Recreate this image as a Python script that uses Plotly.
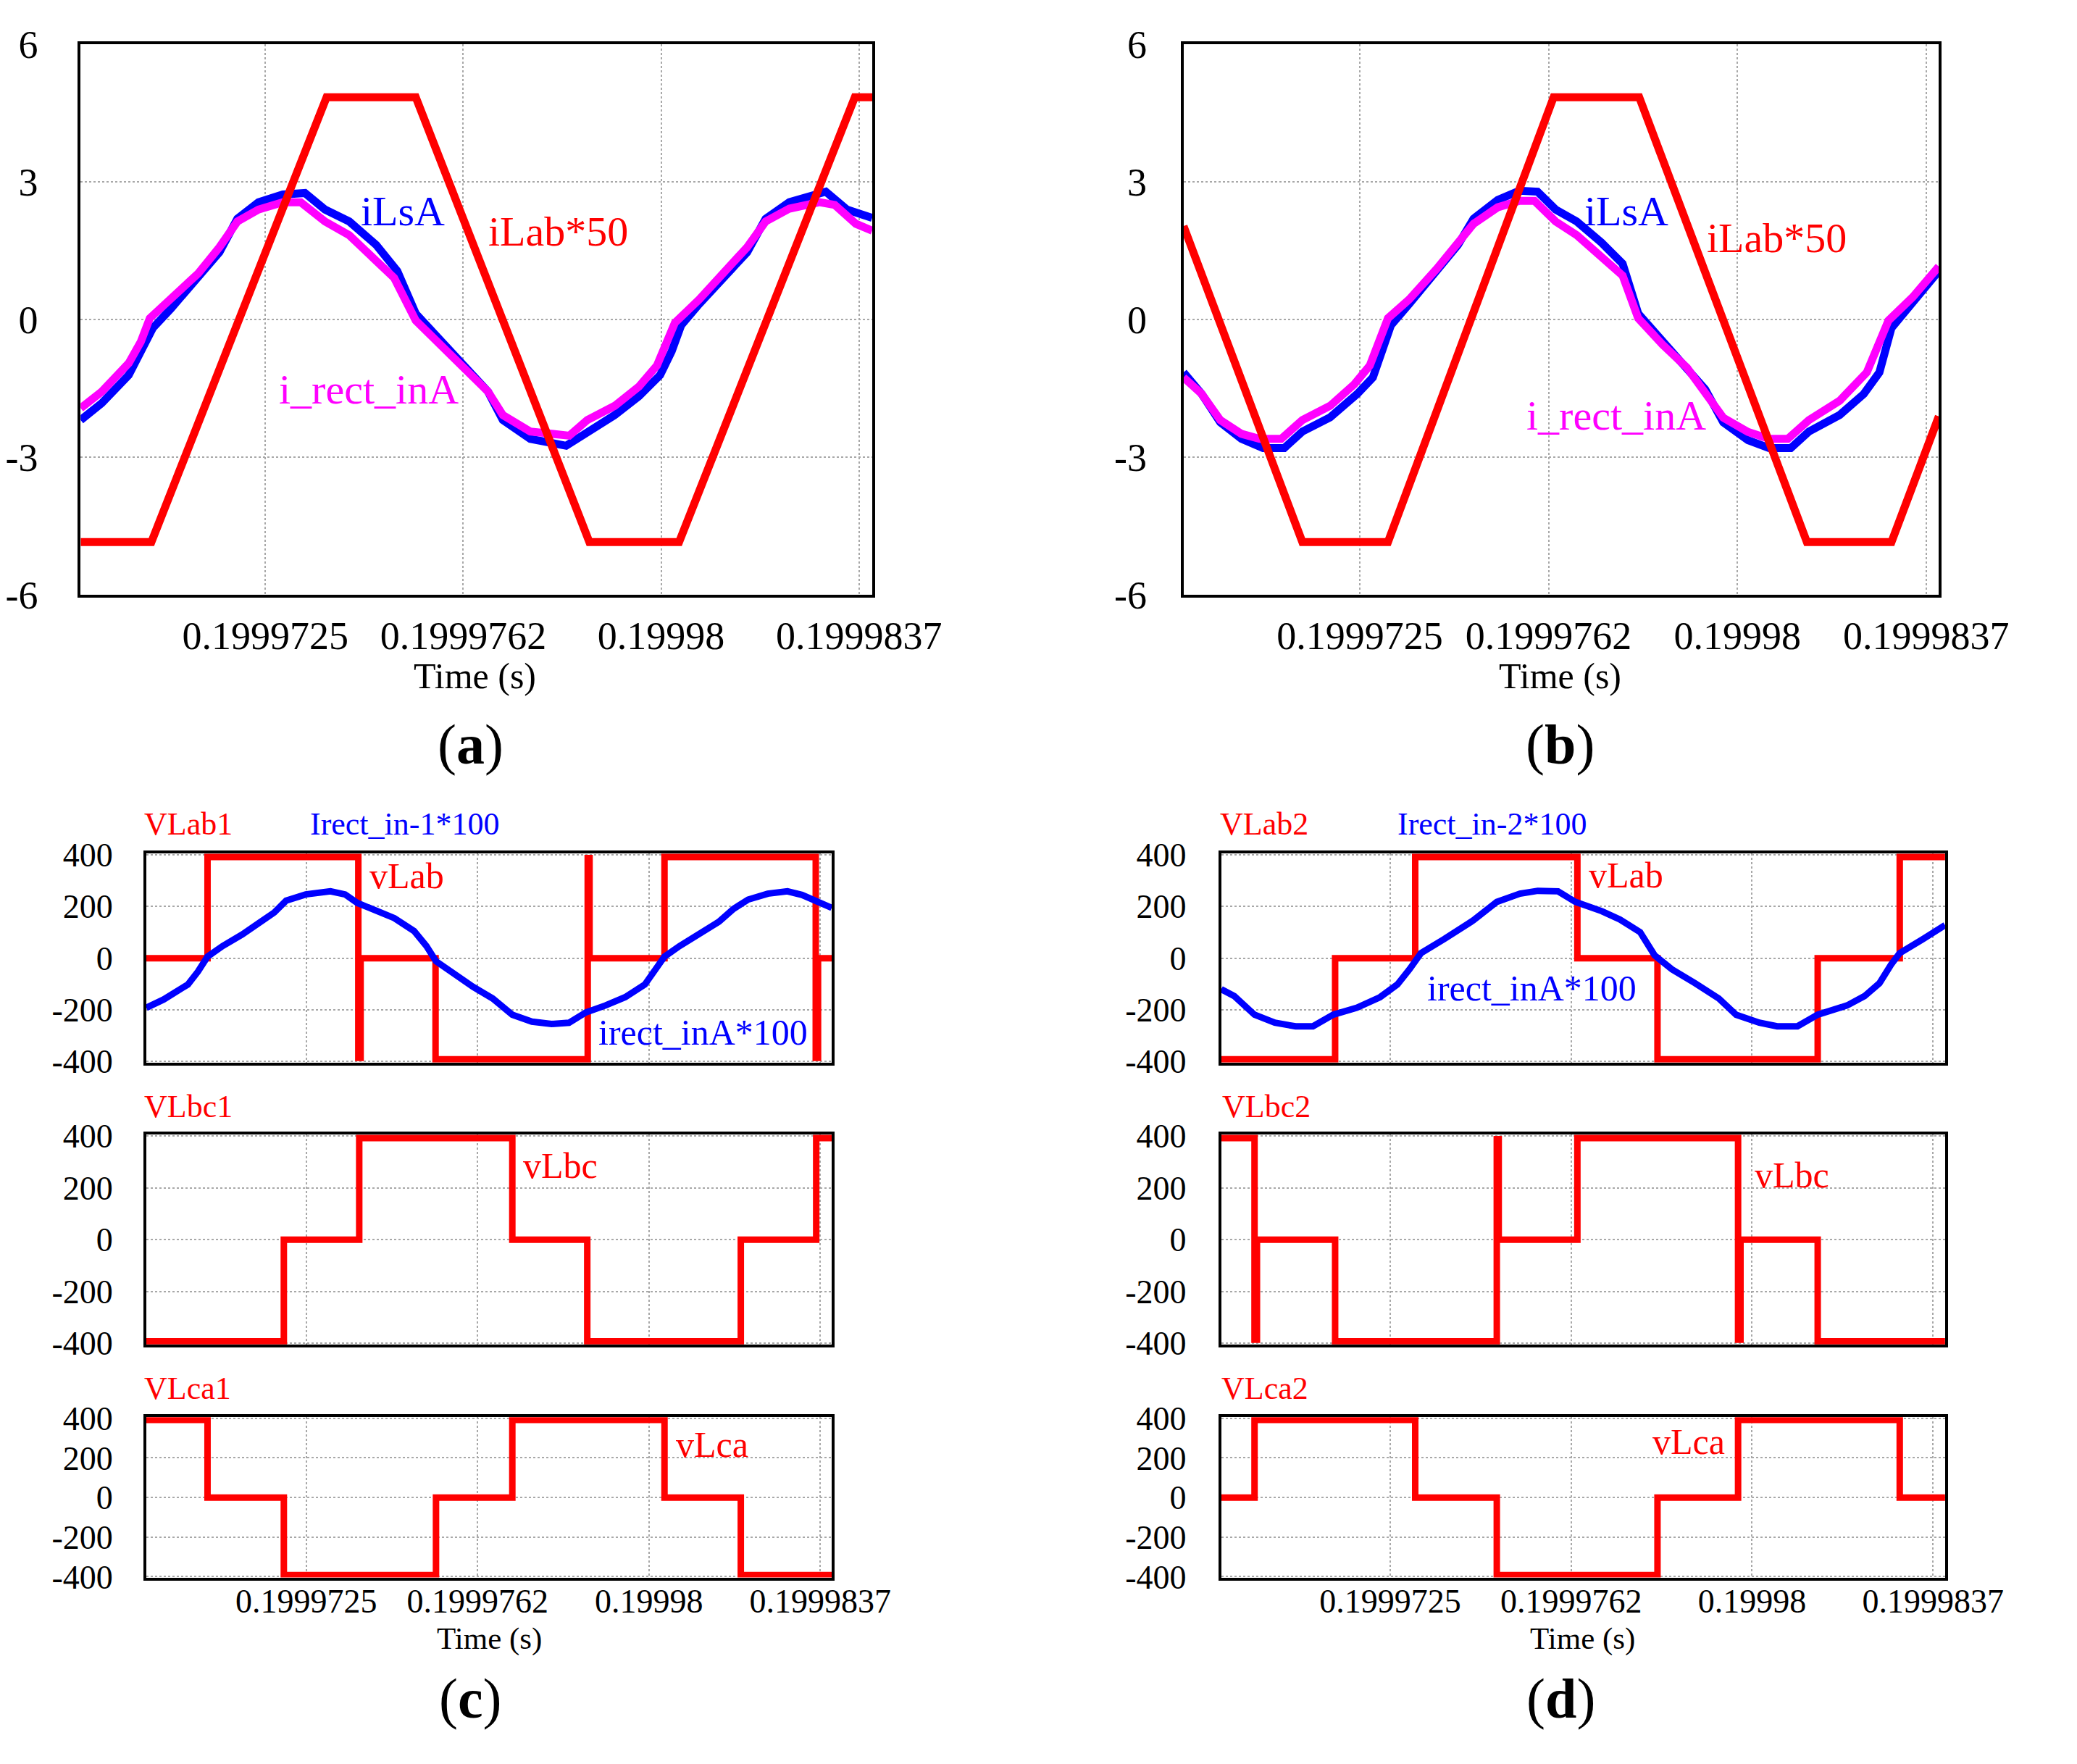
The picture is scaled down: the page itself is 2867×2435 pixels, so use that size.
import plotly.graph_objects as go

# ---------------- data (time in microseconds after T0) ----------------
T0 = 0.199969  # s
x_tick_us = [3.5, 7.25, 11.0, 14.75]
x_tick_text = ["0.1999725", "0.1999762", "0.19998", "0.1999837"]
y_tick_ab = [-6, -3, 0, 3, 6]
y_tick_ab_text = ["-6", "-3", "0", "3", "6"]
y_tick_cd = [-400, -200, 0, 200, 400]
y_tick_cd_text = ["-400", "-200", "0", "200", "400"]

# Panel (a)
a_ilab_t = [0, 1.34, 4.66, 6.35, 9.64, 11.34, 14.67, 15.0]
a_ilab_v = [-4.85, -4.85, 4.85, 4.85, -4.85, -4.85, 4.85, 4.85]
a_ilsa_t = [0, 0.40, 0.91, 1.14, 1.37, 1.71, 2.23, 2.63, 2.97, 3.37, 3.83, 4.25, 4.63, 5.09,
            5.60, 6.00, 6.35, 6.80, 7.26, 7.72, 8.00, 8.52, 9.20, 9.60, 10.12, 10.58, 10.98,
            11.20, 11.38, 11.72, 12.23, 12.63, 12.98, 13.43, 14.12, 14.52, 15.0]
a_ilsa_v = [-2.19, -1.82, -1.21, -0.69, -0.18, 0.24, 0.91, 1.47, 2.20, 2.56, 2.73, 2.76, 2.40, 2.14,
            1.63, 1.06, 0.13, -0.43, -1.00, -1.57, -2.19, -2.60, -2.75, -2.44, -2.08, -1.67, -1.21,
            -0.69, -0.12, 0.34, 0.96, 1.47, 2.20, 2.56, 2.79, 2.40, 2.22]
a_irect_t = [0, 0.40, 0.91, 1.14, 1.31, 1.71, 2.23, 2.63, 2.97, 3.37, 3.83, 4.17, 4.63, 5.09,
             5.54, 5.94, 6.35, 6.80, 7.26, 7.72, 8.00, 8.52, 9.26, 9.60, 10.12, 10.58, 10.92,
             11.26, 11.72, 12.23, 12.63, 12.98, 13.43, 14.00, 14.29, 14.69, 15.0]
a_irect_v = [-1.93, -1.57, -0.95, -0.48, 0.03, 0.44, 1.01, 1.58, 2.14, 2.40, 2.56, 2.56, 2.14, 1.84,
             1.37, 0.91, -0.02, -0.54, -1.05, -1.57, -2.08, -2.44, -2.53, -2.19, -1.88, -1.46, -1.00,
             -0.07, 0.44, 1.06, 1.58, 2.14, 2.42, 2.56, 2.50, 2.09, 1.94]

# Panel (b)
b_ilab_t = [0, 2.36, 4.06, 7.35, 9.05, 12.38, 14.06, 15.0]
b_ilab_v = [2.04, -4.85, -4.85, 4.85, 4.85, -4.85, -4.85, -2.11]
b_ilsa_t = [0, 0.36, 0.73, 1.15, 1.58, 2.00, 2.36, 2.91, 3.45, 3.76, 3.94, 4.12, 4.48, 5.03,
            5.45, 5.76, 6.24, 6.67, 7.03, 7.39, 7.81, 8.30, 8.72, 9.03, 9.51, 10.00, 10.36,
            10.72, 11.21, 11.63, 12.06, 12.42, 13.03, 13.51, 13.82, 14.06, 14.48, 15.0]
b_ilsa_v = [-1.15, -1.62, -2.24, -2.60, -2.80, -2.80, -2.44, -2.13, -1.62, -1.26, -0.69, -0.12, 0.34, 1.06,
            1.63, 2.20, 2.61, 2.81, 2.79, 2.40, 2.14, 1.68, 1.22, 0.13, -0.48, -1.05, -1.52,
            -2.24, -2.63, -2.80, -2.80, -2.44, -2.08, -1.62, -1.15, -0.18, 0.39, 1.06]
b_irect_t = [0, 0.36, 0.73, 1.15, 1.51, 1.94, 2.36, 2.91, 3.39, 3.70, 4.06, 4.48, 5.03,
             5.45, 5.76, 6.24, 6.67, 6.97, 7.39, 7.81, 8.30, 8.72, 9.03, 9.51, 10.00, 10.36,
             10.72, 11.21, 11.63, 12.00, 12.42, 13.03, 13.57, 14.00, 14.48, 15.0]
b_irect_v = [-1.26, -1.62, -2.19, -2.49, -2.60, -2.60, -2.19, -1.88, -1.41, -1.00, 0.03, 0.44, 1.11,
             1.68, 2.09, 2.45, 2.59, 2.59, 2.14, 1.84, 1.37, 0.96, 0.03, -0.54, -1.05, -1.57,
             -2.14, -2.45, -2.60, -2.60, -2.19, -1.77, -1.15, -0.02, 0.49, 1.16]

# Panel (c)
c_vlab_t = [0, 1.34, 4.64, 4.69, 6.33, 9.66, 9.70, 11.34, 14.65, 14.70, 15.0]
c_vlab_v = [0, 392, -386, 0, -392, 388, 0, 392, -386, 0, 0]
c_irect_t = [0, 0.38, 0.91, 1.13, 1.34, 1.67, 2.10, 2.53, 2.80, 3.06, 3.49, 4.03, 4.35, 4.62,
             5.05, 5.43, 5.86, 6.13, 6.34, 6.72, 7.15, 7.58, 8.01, 8.44, 8.87, 9.25, 9.62,
             10.05, 10.48, 10.91, 11.13, 11.34, 11.67, 12.10, 12.53, 12.85, 13.17, 13.60,
             14.03, 14.35, 14.68, 15.0]
c_irect_v = [-192, -160, -102, -52, 6, 47, 92, 141, 177, 223, 247, 259, 247, 214,
             182, 155, 105, 47, -12, -61, -111, -156, -219, -246, -255, -250, -210,
             -183, -151, -102, -43, 6, 47, 96, 141, 191, 227, 250,
             259, 245, 218, 195]
c_vlbc_t = [0, 3.01, 4.66, 8.01, 9.65, 13.01, 14.66, 15.0]
c_vlbc_v = [-392, 0, 392, 0, -392, 0, 392, 392]
c_vlca_t = [0, 1.34, 3.01, 6.34, 8.01, 11.34, 13.01, 15.0]
c_vlca_v = [392, 0, -392, 0, 392, 0, -392, -392]

# Panel (d)
d_vlab_t = [0, 2.36, 4.02, 7.38, 9.04, 12.36, 14.06, 15.0]
d_vlab_v = [-392, 0, 392, 0, -392, 0, 392, 392]
d_irect_t = [0, 0.27, 0.69, 1.11, 1.54, 1.90, 2.32, 2.81, 3.29, 3.65, 3.90, 4.14, 4.62, 5.22,
             5.71, 6.19, 6.56, 6.98, 7.34, 7.89, 8.26, 8.68, 8.98, 9.34, 9.82, 10.31, 10.67,
             11.15, 11.52, 11.94, 12.36, 12.97, 13.33, 13.64, 13.88, 14.06, 14.54, 15.0]
d_irect_v = [-120, -147, -219, -250, -264, -264, -219, -192, -151, -102, -43, 20, 74, 146,
             218, 250, 261, 259, 218, 182, 150, 101, 11, -43, -97, -156, -219,
             -250, -264, -264, -219, -183, -147, -97, -25, 20, 74, 128]
d_vlbc_t = [0, 0.69, 0.74, 2.36, 5.71, 5.75, 7.38, 10.71, 10.76, 12.36, 15.0]
d_vlbc_v = [392, -386, 0, -392, 388, 0, 392, -386, 0, -392, -392]
d_vlca_t = [0, 0.69, 4.02, 5.71, 9.04, 10.71, 14.06, 15.0]
d_vlca_v = [0, 392, 0, -392, 0, 392, 0, 0]

# ---------------- figure ----------------
PAGE_W, PAGE_H = 2867, 2435
OFF = 8  # default body margin of the html page
W, H = PAGE_W - 2 * OFF, PAGE_H - 2 * OFF
FONT = "Liberation Serif"
RED, BLUE, MAG = "#FF0000", "#0000FF", "#FF00FF"


def tsec(arr):
    return [T0 + v * 1e-6 for v in arr]


fig = go.Figure()


def add_line(t, v, color, width, n, shape="linear"):
    fig.add_trace(go.Scatter(
        x=tsec(t), y=v, mode="lines",
        line=dict(color=color, width=width, shape=shape),
        xaxis="x" if n == 1 else f"x{n}", yaxis="y" if n == 1 else f"y{n}",
        showlegend=False, hoverinfo="skip"))


LW_AB, LW_CD = 11, 9
# (a)
add_line(a_ilsa_t, a_ilsa_v, BLUE, LW_AB, 1)
add_line(a_irect_t, a_irect_v, MAG, LW_AB, 1)
add_line(a_ilab_t, a_ilab_v, RED, LW_AB, 1)
# (b)
add_line(b_ilsa_t, b_ilsa_v, BLUE, LW_AB, 2)
add_line(b_irect_t, b_irect_v, MAG, LW_AB, 2)
add_line(b_ilab_t, b_ilab_v, RED, LW_AB, 2)
# (c)
add_line(c_vlab_t, c_vlab_v, RED, LW_CD, 3, "hv")
add_line(c_irect_t, c_irect_v, BLUE, LW_CD, 3)
add_line(c_vlbc_t, c_vlbc_v, RED, LW_CD, 4, "hv")
add_line(c_vlca_t, c_vlca_v, RED, LW_CD, 5, "hv")
# (d)
add_line(d_vlab_t, d_vlab_v, RED, LW_CD, 6, "hv")
add_line(d_irect_t, d_irect_v, BLUE, LW_CD, 6)
add_line(d_vlbc_t, d_vlbc_v, RED, LW_CD, 7, "hv")
add_line(d_vlca_t, d_vlca_v, RED, LW_CD, 8, "hv")


def xdom(l, r):
    return [(l - OFF) / W, (r - OFF) / W]


def ydom(top, bot):
    return [1 - (bot - OFF) / H, 1 - (top - OFF) / H]


common = dict(showgrid=True, gridcolor="#A8A8A8", griddash="dot", gridwidth=2,
              showline=True, linecolor="black", linewidth=4, mirror=True,
              zeroline=False, ticks="")


def xaxis(dom, anchor, show, size, standoff):
    return dict(domain=dom, anchor=anchor, range=[T0, T0 + 15e-6],
                tickvals=tsec(x_tick_us), ticktext=x_tick_text, showticklabels=show,
                tickfont=dict(family=FONT, size=size, color="black"),
                ticklabelstandoff=standoff, **common)


def yaxis(dom, anchor, rng, vals, text, size, standoff):
    return dict(domain=dom, anchor=anchor, range=rng, tickvals=vals, ticktext=text,
                tickfont=dict(family=FONT, size=size, color="black"),
                ticklabelstandoff=standoff, **common)


YAB = ydom(33, 812)
YC1, YC2, YC3 = ydom(1178, 1474), ydom(1576, 1873), ydom(1976, 2203)
XA, XB = xdom(108, 1242), xdom(1688, 2770)
XC, XD = xdom(202, 1184), xdom(1742, 2779)
RNG_CD = [-404, 406]

layout = dict(
    width=W, height=H, margin=dict(l=0, r=0, t=0, b=0),
    paper_bgcolor="white", plot_bgcolor="white", showlegend=False,
    xaxis=xaxis(XA, "y", True, 54, 6),
    yaxis=yaxis(YAB, "x", [-6, 6], y_tick_ab, y_tick_ab_text, 54, 44),
    xaxis2=xaxis(XB, "y2", True, 54, 6),
    yaxis2=yaxis(YAB, "x2", [-6, 6], y_tick_ab, y_tick_ab_text, 54, 36),
    xaxis3=xaxis(XC, "y3", False, 46, -11),
    yaxis3=yaxis(YC1, "x3", RNG_CD, y_tick_cd, y_tick_cd_text, 46, 33),
    xaxis4=xaxis(XC, "y4", False, 46, -11),
    yaxis4=yaxis(YC2, "x4", RNG_CD, y_tick_cd, y_tick_cd_text, 46, 33),
    xaxis5=xaxis(XC, "y5", True, 46, -11),
    yaxis5=yaxis(YC3, "x5", RNG_CD, y_tick_cd, y_tick_cd_text, 46, 33),
    xaxis6=xaxis(XD, "y6", False, 46, -11),
    yaxis6=yaxis(YC1, "x6", RNG_CD, y_tick_cd, y_tick_cd_text, 46, 35),
    xaxis7=xaxis(XD, "y7", False, 46, -11),
    yaxis7=yaxis(YC2, "x7", RNG_CD, y_tick_cd, y_tick_cd_text, 46, 35),
    xaxis8=xaxis(XD, "y8", True, 46, -11),
    yaxis8=yaxis(YC3, "x8", RNG_CD, y_tick_cd, y_tick_cd_text, 46, 35),
)
fig.update_layout(**layout)


def label(text, px, py, color, size):
    fig.add_annotation(text=text, x=(px - OFF) / W, y=1 - (py - OFF) / H,
                       xref="paper", yref="paper",
                       showarrow=False, xanchor="center", yanchor="middle",
                       font=dict(family=FONT, size=size, color=color))


# (a)
label("iLsA", 569, 269, BLUE, 58)
label("iLab*50", 792, 298, RED, 58)
label("i_rect_inA", 521, 521, MAG, 58)
label("Time (s)", 673, 927, "black", 50)
label("(<b>a</b>)", 667, 1024, "black", 78)
# (b)
label("iLsA", 2322, 269, BLUE, 58)
label("iLab*50", 2538, 307, RED, 58)
label("i_rect_inA", 2308, 558, MAG, 58)
label("Time (s)", 2227, 927, "black", 50)
label("(<b>b</b>)", 2227, 1024, "black", 78)
# (c)
label("VLab1", 262, 1137, RED, 44)
label("Irect_in-1*100", 572, 1137, BLUE, 44)
label("vLab", 575, 1210, RED, 50)
label("irect_inA*100", 1000, 1431, BLUE, 50)
label("VLbc1", 262, 1536, RED, 44)
label("vLbc", 795, 1620, RED, 50)
label("VLca1", 261, 1935, RED, 44)
label("vLca", 1013, 2015, RED, 50)
label("Time (s)", 693, 2290, "black", 43)
label("(<b>c</b>)", 667, 2374, "black", 78)
# (d)
label("VLab2", 1803, 1137, RED, 44)
label("Irect_in-2*100", 2130, 1137, BLUE, 44)
label("vLab", 2322, 1209, RED, 50)
label("irect_inA*100", 2187, 1369, BLUE, 50)
label("VLbc2", 1807, 1536, RED, 44)
label("vLbc", 2560, 1633, RED, 50)
label("VLca2", 1805, 1935, RED, 44)
label("vLca", 2412, 2011, RED, 50)
label("Time (s)", 2260, 2290, "black", 43)
label("(<b>d</b>)", 2229, 2374, "black", 78)

fig.write_html("out.html")
